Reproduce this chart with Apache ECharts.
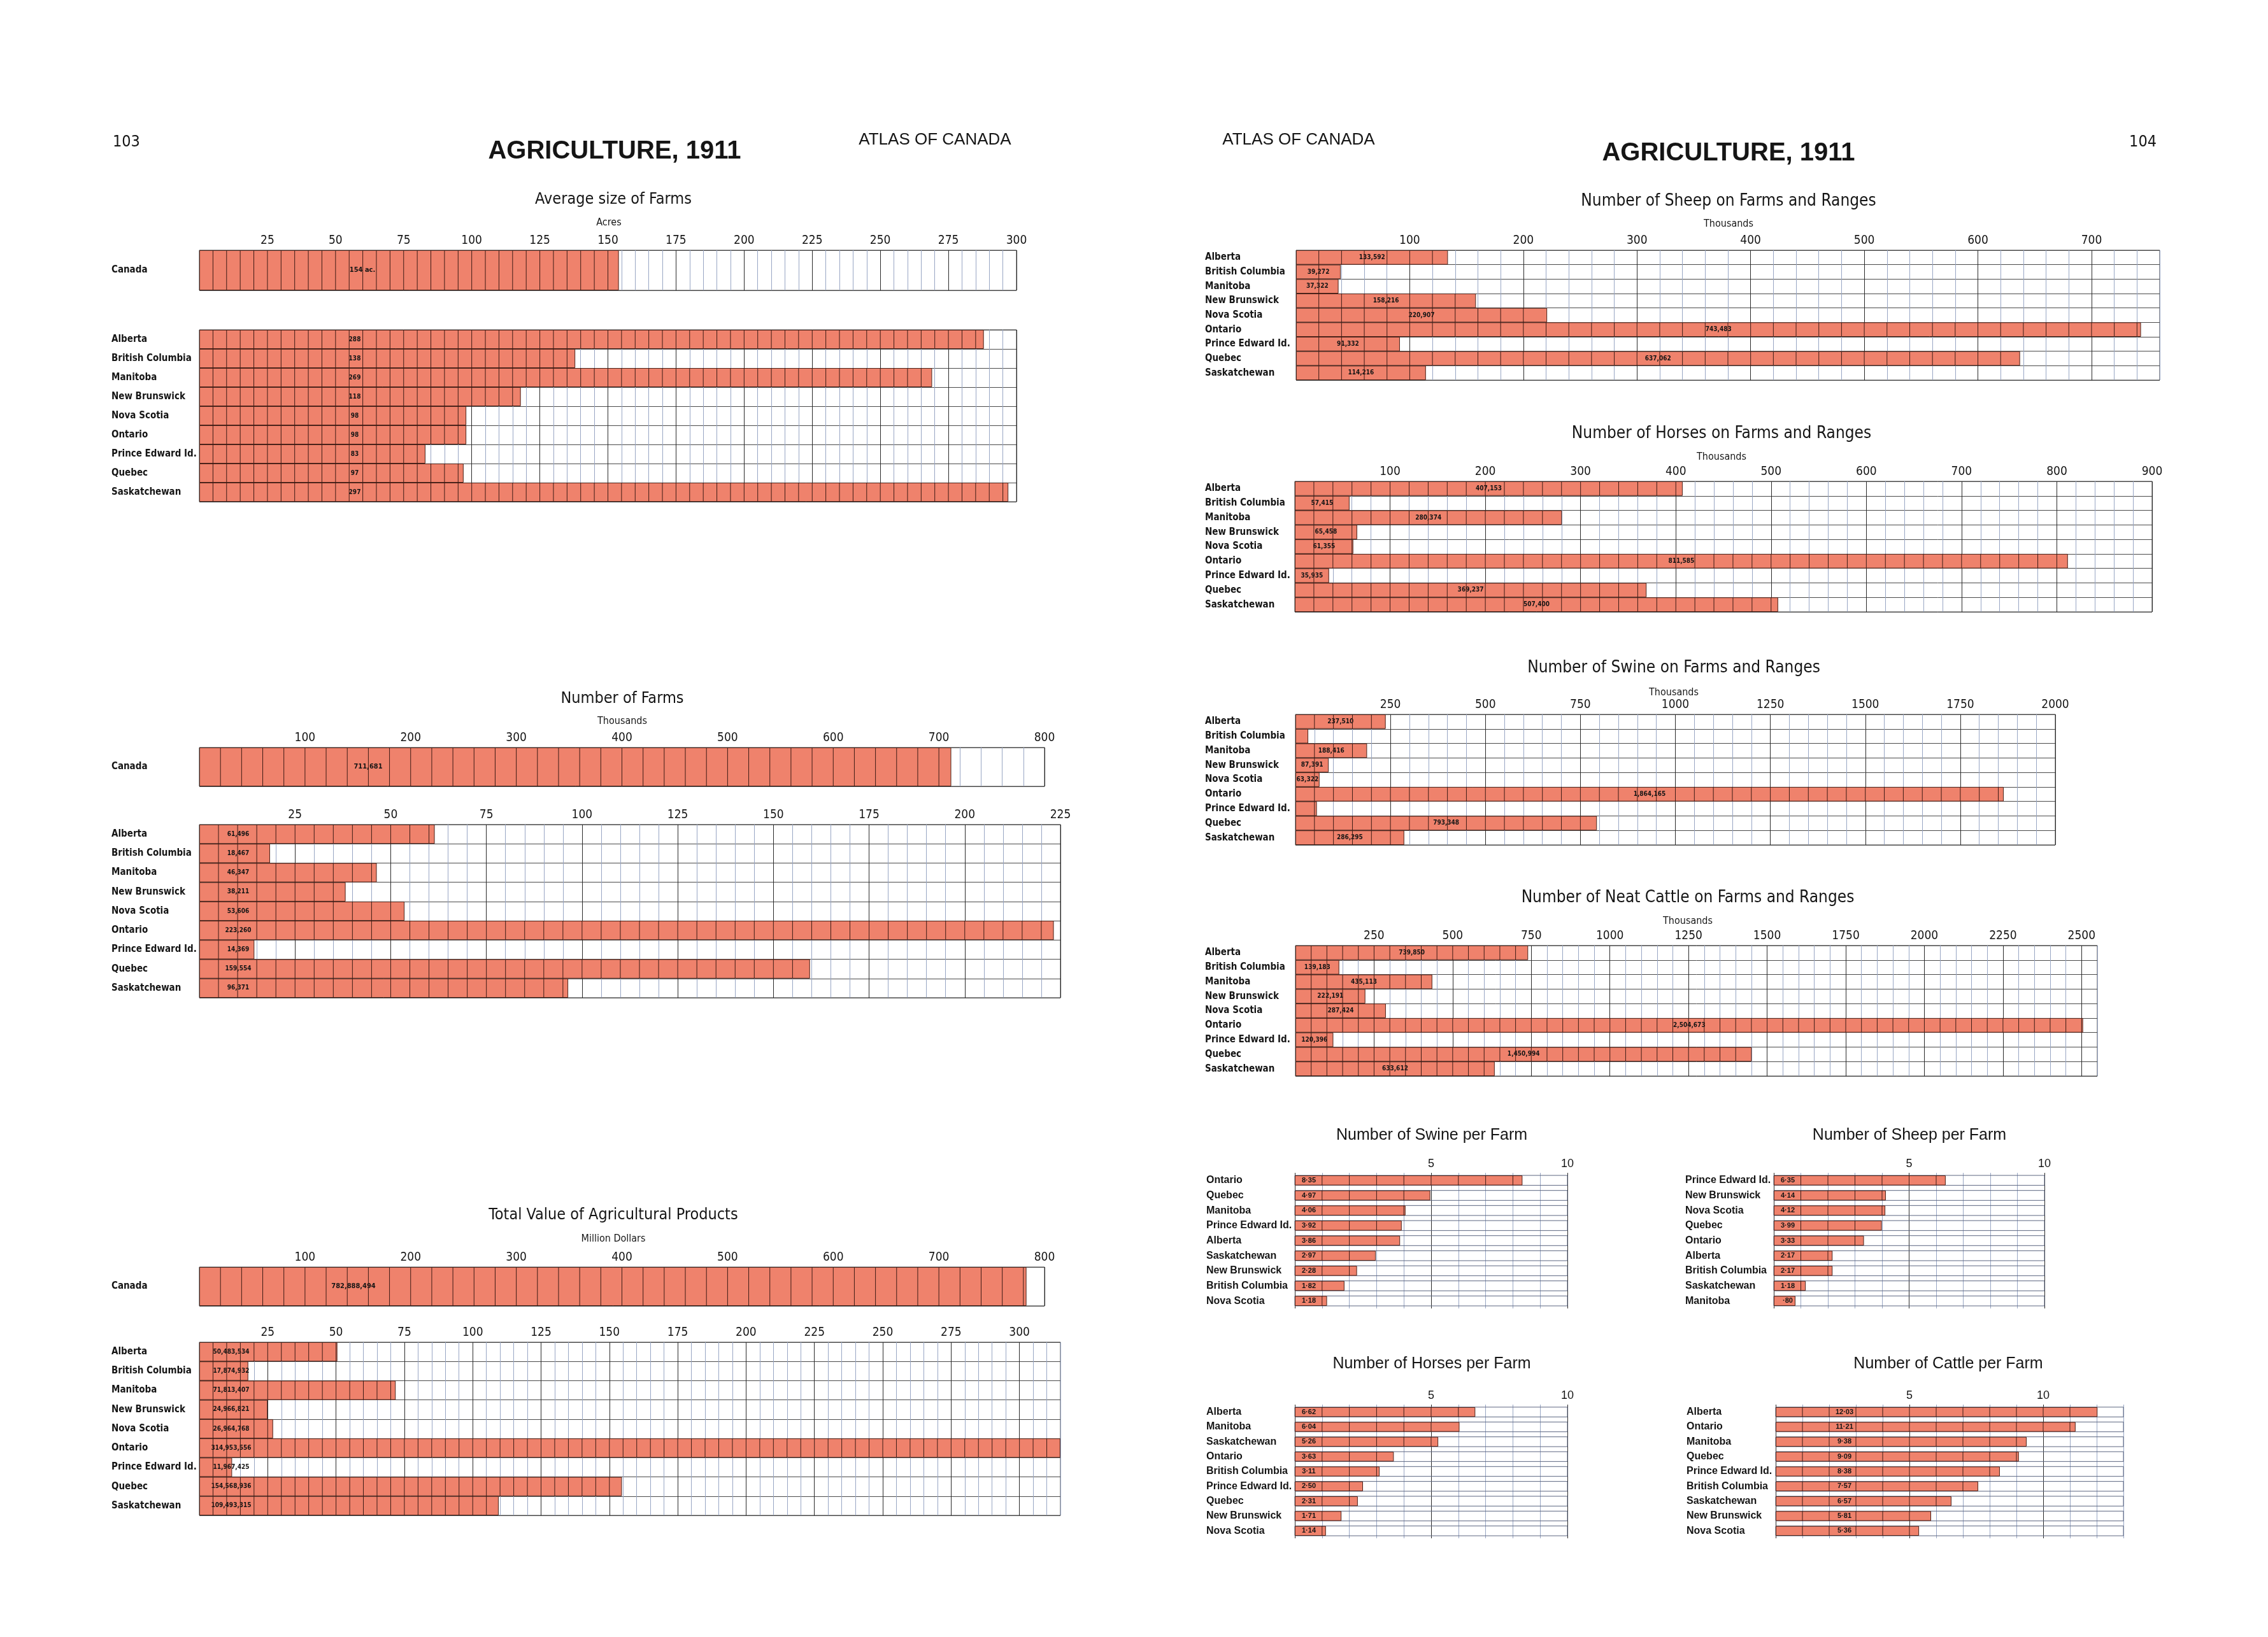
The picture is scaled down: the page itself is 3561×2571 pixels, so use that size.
<!DOCTYPE html>
<html><head><meta charset="utf-8">
<script src="https://cdn.jsdelivr.net/npm/echarts@6/dist/echarts.min.js"></script>
<style>html,body{margin:0;padding:0;background:#fff}#c{width:3561px;height:2571px}</style>
</head><body><div id="c"></div>
<script>
// ---------------- DATA ----------------
const provinces = ['Alberta','British Columbia','Manitoba','New Brunswick','Nova Scotia','Ontario','Prince Edward Id.','Quebec','Saskatchewan'];
const canadaCat = ['Canada'];

const avgSizeCanada = 154;                       // acres
const avgSize = [288,138,269,118,98,98,83,97,297];

const farmsCanada = 711681;
const farms = [61496,18467,46347,38211,53606,223260,14369,159554,96371];

const productValueCanada = 782888494;            // dollars
const productValue = [50483534,17874932,71813407,24966821,26964768,314953556,11967425,154568936,109493315];

const sheep  = [133592,39272,37322,158216,220907,743483,91332,637062,114216];
const horses = [407153,57415,280374,65458,61355,811585,35935,369237,507400];
const swine  = [237510,33600,188416,87391,63322,1864165,56300,793348,286295];
const swineUnlabelled = ['British Columbia','Prince Edward Id.'];
const cattle = [739850,139183,435113,222191,287424,2504673,120396,1450994,633612];

const swinePerFarmCats = ['Ontario','Quebec','Manitoba','Prince Edward Id.','Alberta','Saskatchewan','New Brunswick','British Columbia','Nova Scotia'];
const swinePerFarm = [8.35,4.97,4.06,3.92,3.86,2.97,2.28,1.82,1.18];
const sheepPerFarmCats = ['Prince Edward Id.','New Brunswick','Nova Scotia','Quebec','Ontario','Alberta','British Columbia','Saskatchewan','Manitoba'];
const sheepPerFarm = [6.35,4.14,4.12,3.99,3.33,2.17,2.17,1.18,0.80];
const horsesPerFarmCats = ['Alberta','Manitoba','Saskatchewan','Ontario','British Columbia','Prince Edward Id.','Quebec','New Brunswick','Nova Scotia'];
const horsesPerFarm = [6.62,6.04,5.26,3.63,3.11,2.50,2.31,1.71,1.14];
const cattlePerFarmCats = ['Alberta','Ontario','Manitoba','Quebec','Prince Edward Id.','British Columbia','Saskatchewan','New Brunswick','Nova Scotia'];
const cattlePerFarm = [12.03,11.21,9.38,9.09,8.38,7.57,6.57,5.81,5.36];

// ---------------- STYLE ----------------
const RED = '#EF826C';
const NARROW = "'Liberation Sans Narrow','DejaVu Sans Condensed','Liberation Sans',sans-serif";
const SANS = "'Liberation Sans','DejaVu Sans',sans-serif";
const INK = '#151515';

function fmtThousands(n){ return String(n).replace(/\B(?=(\d{3})+(?!\d))/g, ','); }
function fmtPerFarm(v){ let s = v.toFixed(2).replace('.', '\u00B7'); if (v < 1) s = s.replace(/^0/, ''); return s; }

const grids = [], xAxes = [], yAxes = [], series = [], texts = [];

function addChart(c){
  const gi = grids.length;
  grids.push({left:c.left, top:c.top, width:c.width, height:c.height, show:!c.perFarm,
    borderColor:'#3a3a3a', borderWidth:1, backgroundColor:'#fff'});
  const nMinor = Math.round(c.major / c.step);
  const colors = ['#2b2b2b'];
  for (let k = 1; k < nMinor; k++) colors.push('#98a6c4');
  xAxes.push({gridIndex:gi, type:'value', position:'top', min:0, max:c.max, interval:c.step,
    axisLine:{show:false}, axisTick:{show:false},
    axisLabel:{show:!!c.labelEvery, margin:c.tickMargin || 5, fontFamily:c.tickFont || NARROW,
      fontSize:c.tickSize || 19, color:INK, showMinLabel:false, showMaxLabel:true,
      formatter: v => {
        if (!c.labelEvery || v <= 0) return '';
        const r = v / c.labelEvery;
        return Math.abs(r - Math.round(r)) < 1e-6 ? String(Math.round(v)) : '';
      }},
    splitLine:{show:true, lineStyle:{color:colors, width:1}}});
  yAxes.push({gridIndex:gi, type:'category', data:c.cats, inverse:true,
    axisLine:{show:false}, axisTick:{show:false},
    axisLabel:{show:true, interval:0, align:'left', margin:c.catMargin, fontFamily:c.catFont || NARROW,
      fontSize:c.catSize || 15, fontWeight:c.catWeight || 'bold', color:INK,
      padding:[c.catShift || 0, 0, 0, 0]},
    splitLine:{show:!c.perFarm, lineStyle:{color:'#4a4a4a', width:1}}});
  series.push({type:'bar', xAxisIndex:gi, yAxisIndex:gi, data:c.values,
    barCategoryGap: c.perFarm ? '34%' : 0, silent:true, animation:false,
    itemStyle:{color:RED, borderColor:'#4b2219', borderWidth:1},
    showBackground: !!c.perFarm,
    backgroundStyle:{color:'rgba(0,0,0,0)', borderColor:'#5c6680', borderWidth:1},
    label:{show:true, position:c.labelPos, formatter: p => c.labels[p.dataIndex],
      fontFamily:c.valFont || NARROW, fontWeight:'bold', fontSize:c.valSize || 10, color:INK,
      align:'center', verticalAlign:'middle'},
    z:2});
  const frac = c.perFarm ? 0.66 : 1;
  series.push({type:'custom', xAxisIndex:gi, yAxisIndex:gi, silent:true, animation:false, z:3,
    data:c.values.map((v, i) => [v, i]), encode:{x:0, y:1},
    renderItem:(params, api) => {
      const v = api.value(0), i = api.value(1);
      const ctr = api.coord([0, i]);
      const band = api.size([0, 1])[1] * frac;
      const ch = [];
      for (let x = c.step; x < v - c.step * 0.05; x += c.step) {
        const p = api.coord([x, i]);
        ch.push({type:'line', shape:{x1:p[0], y1:ctr[1] - band/2, x2:p[0], y2:ctr[1] + band/2},
          style:{stroke:'#3d1b15', lineWidth:1}});
      }
      return {type:'group', children:ch};
    }});
}

function txt(s, x, y, font, align){
  texts.push({type:'text', x:x, y:y, silent:true,
    style:{text:s, font:font, fill:INK, textAlign:align || 'center', textVerticalAlign:'middle',
      align:align || 'center', verticalAlign:'middle'}});
}

// ---------------- LEFT PAGE ----------------
txt('103', 177, 223, "25px " + NARROW, 'left');
txt('AGRICULTURE, 1911', 965, 238, "bold 40px " + SANS);
txt('ATLAS OF CANADA', 1468, 220, "26px " + SANS);

txt('Average size of Farms', 963, 313, "25px " + NARROW);
txt('Acres', 956, 350, "16px " + NARROW);
addChart({left:313, top:393, width:1283, height:63, max:300, step:5, major:25, labelEvery:25,
  cats:canadaCat, values:[avgSizeCanada], labels:[avgSizeCanada + ' ac.'], labelPos:[256,'50%'], catMargin:138, valSize:11, catShift:6});
addChart({left:313, top:518, width:1283, height:270, max:300, step:5, major:25, labelEvery:0,
  cats:provinces, values:avgSize, labels:avgSize.map(String), labelPos:[244,'50%'], catMargin:138, catShift:6});

txt('Number of Farms', 977, 1097, "25px " + NARROW);
txt('Thousands', 977, 1133, "16px " + NARROW);
addChart({left:313, top:1174, width:1327, height:61, max:800, step:20, major:100, labelEvery:100,
  cats:canadaCat, values:[farmsCanada/1000], labels:[fmtThousands(farmsCanada)], labelPos:[265,'50%'], catMargin:138, valSize:11});
addChart({left:313, top:1295, width:1352, height:272, max:225, step:5, major:25, labelEvery:25,
  cats:provinces, values:farms.map(v => v/1000), labels:farms.map(fmtThousands), labelPos:[61,'50%'], catMargin:138, catShift:3});

txt('Total Value of Agricultural Products', 963, 1908, "25px " + NARROW);
txt('Million Dollars', 963, 1946, "16px " + NARROW);
addChart({left:313, top:1990, width:1327, height:61, max:800, step:20, major:100, labelEvery:100,
  cats:canadaCat, values:[productValueCanada/1e6], labels:[fmtThousands(productValueCanada)], labelPos:[242,'50%'], catMargin:138, valSize:11});
addChart({left:313, top:2108, width:1352, height:272, max:315, step:5, major:25, labelEvery:25,
  cats:provinces, values:productValue.map(v => v/1e6), labels:productValue.map(fmtThousands), labelPos:[50,'50%'], catMargin:138, catShift:5});

// ---------------- RIGHT PAGE ----------------
txt('ATLAS OF CANADA', 2039, 220, "26px " + SANS);
txt('AGRICULTURE, 1911', 2714, 241, "bold 40px " + SANS);
txt('104', 3386, 223, "25px " + NARROW, 'right');

txt('Number of Sheep on Farms and Ranges', 2714, 316, "26px " + NARROW);
txt('Thousands', 2714, 352, "16px " + NARROW);
addChart({left:2035, top:393, width:1356, height:204, max:760, step:20, major:100, labelEvery:100,
  cats:provinces, values:sheep.map(v => v/1000), labels:sheep.map(fmtThousands), labelPos:'inside', catMargin:143});

txt('Number of Horses on Farms and Ranges', 2703, 681, "26px " + NARROW);
txt('Thousands', 2703, 718, "16px " + NARROW);
addChart({left:2033, top:756, width:1346, height:205, max:900, step:20, major:100, labelEvery:100,
  cats:provinces, values:horses.map(v => v/1000), labels:horses.map(fmtThousands), labelPos:'inside', catMargin:141});

txt('Number of Swine on Farms and Ranges', 2628, 1049, "26px " + NARROW);
txt('Thousands', 2628, 1088, "16px " + NARROW);
addChart({left:2034, top:1122, width:1193, height:205, max:2000, step:50, major:250, labelEvery:250,
  cats:provinces, values:swine.map(v => v/1000),
  labels:swine.map((v, i) => swineUnlabelled.indexOf(provinces[i]) >= 0 ? '' : fmtThousands(v)),
  labelPos:'inside', catMargin:142});

txt('Number of Neat Cattle on Farms and Ranges', 2650, 1410, "26px " + NARROW);
txt('Thousands', 2650, 1447, "16px " + NARROW);
addChart({left:2034, top:1485, width:1259, height:205, max:2550, step:50, major:250, labelEvery:250,
  cats:provinces, values:cattle.map(v => v/1000), labels:cattle.map(fmtThousands), labelPos:'inside', catMargin:142});

const pf = {perFarm:true, step:1, major:5, labelEvery:5, tickFont:SANS, tickSize:18, catFont:SANS, catSize:16,
  catWeight:'bold', valFont:SANS, valSize:11, catMargin:139};
txt('Number of Swine per Farm', 2248, 1783, "25px " + SANS);
addChart(Object.assign({}, pf, {left:2033, top:1842, width:428, height:213, max:10,
  cats:swinePerFarmCats, values:swinePerFarm, labels:swinePerFarm.map(fmtPerFarm), labelPos:[22,'50%']}));
txt('Number of Sheep per Farm', 2998, 1783, "25px " + SANS);
addChart(Object.assign({}, pf, {left:2785, top:1842, width:425, height:213, max:10,
  cats:sheepPerFarmCats, values:sheepPerFarm, labels:sheepPerFarm.map(fmtPerFarm), labelPos:[22,'50%']}));
txt('Number of Horses per Farm', 2248, 2142, "25px " + SANS);
addChart(Object.assign({}, pf, {left:2033, top:2206, width:428, height:210, max:10,
  cats:horsesPerFarmCats, values:horsesPerFarm, labels:horsesPerFarm.map(fmtPerFarm), labelPos:[22,'50%']}));
txt('Number of Cattle per Farm', 3059, 2142, "25px " + SANS);
addChart(Object.assign({}, pf, {left:2788, top:2206, width:546, height:210, max:13, catMargin:140,
  cats:cattlePerFarmCats, values:cattlePerFarm, labels:cattlePerFarm.map(fmtPerFarm), labelPos:[108,'50%']}));

// ---------------- RENDER ----------------
const chart = echarts.init(document.getElementById('c'), null, {renderer:'canvas', width:3561, height:2571});
chart.setOption({
  backgroundColor:'#ffffff',
  animation:false,
  grid:grids, xAxis:xAxes, yAxis:yAxes, series:series,
  graphic:{elements:texts}
});
</script>
</body></html>
